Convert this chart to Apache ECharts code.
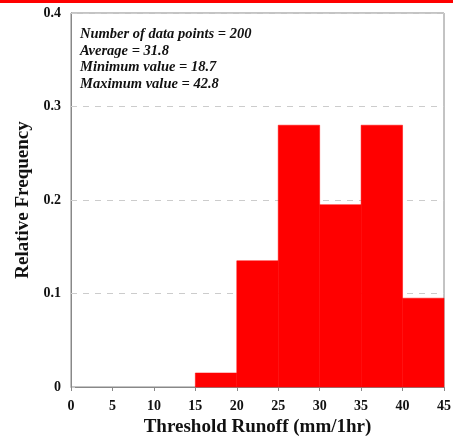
<!DOCTYPE html>
<html>
<head>
<meta charset="utf-8">
<script src="https://cdn.jsdelivr.net/npm/echarts@6/dist/echarts.min.js"></script>
<style>
  html, body { margin: 0; padding: 0; background: #fff; }
  #chart { width: 466px; height: 438px; }
</style>
</head>
<body>
<div id="chart"></div>
<script>
// histogram bins (mm/1hr) and relative frequencies
var binStart = [15, 20, 25, 30, 35, 40];
var binEnd = [20, 25, 30, 35, 40, 45];
var relFreq = [0.015, 0.135, 0.28, 0.195, 0.28, 0.095];
var statLines = [
  'Number of data points = 200',
  'Average = 31.8',
  'Minimum value = 18.7',
  'Maximum value = 42.8'
];

var serif = '"Liberation Serif", "DejaVu Serif", serif';

var chart = echarts.init(document.getElementById('chart'));

var data = binStart.map(function (s, i) { return [s, binEnd[i], relFreq[i]]; });

chart.setOption({
  animation: false,
  grid: {
    left: 71, right: 22, top: 13, bottom: 51, show: true, borderColor: '#888', borderWidth: 1,
    outerBoundsMode: 'none', containLabel: false
  },
  xAxis: {
    type: 'value', min: 0, max: 45, interval: 5,
    name: 'Threshold Runoff (mm/1hr)', nameLocation: 'middle', nameGap: 28,
    nameTextStyle: { fontFamily: serif, fontWeight: 'bold', fontSize: 19, color: '#111' },
    axisLine: { lineStyle: { color: '#888' } },
    axisTick: { inside: false, length: 4, lineStyle: { color: '#888' } },
    axisLabel: { fontFamily: serif, fontWeight: 'bold', fontSize: 14, color: '#111', margin: 12 },
    splitLine: { show: false }
  },
  yAxis: {
    type: 'value', min: 0, max: 0.4, interval: 0.1,
    name: 'Relative Frequency', nameLocation: 'middle', nameGap: 35,
    nameTextStyle: { fontFamily: serif, fontWeight: 'bold', fontSize: 19, color: '#111' },
    axisLine: { lineStyle: { color: '#888' } },
    axisTick: { inside: true, length: 4, lineStyle: { color: '#ccc' } },
    axisLabel: {
      fontFamily: serif, fontWeight: 'bold', fontSize: 14, color: '#111', margin: 10,
      formatter: function (v) { return v === 0 ? '0' : v.toFixed(1); }
    },
    splitLine: { show: true, lineStyle: { color: '#ccc', type: [6, 6] } }
  },
  graphic: [
    { type: 'rect', left: 0, top: 0, shape: { width: 453, height: 3 }, style: { fill: '#ff0000' } },
    {
      type: 'text', left: 80, top: 26, z: 10,
      style: {
        text: statLines.join('\n'), fill: '#111', lineHeight: 16.5,
        font: 'italic bold 14.5px ' + serif
      }
    }
  ],
  series: [{
    type: 'custom',
    data: data,
    encode: { x: [0, 1], y: 2 },
    renderItem: function (params, api) {
      var p0 = api.coord([api.value(0), api.value(2)]);
      var p1 = api.coord([api.value(1), 0]);
      return {
        type: 'rect',
        shape: { x: p0[0], y: p0[1], width: p1[0] - p0[0], height: p1[1] - p0[1] },
        style: { fill: '#ff0000', stroke: '#ff0000', lineWidth: 0.5 }
      };
    }
  }]
});
</script>
</body>
</html>
